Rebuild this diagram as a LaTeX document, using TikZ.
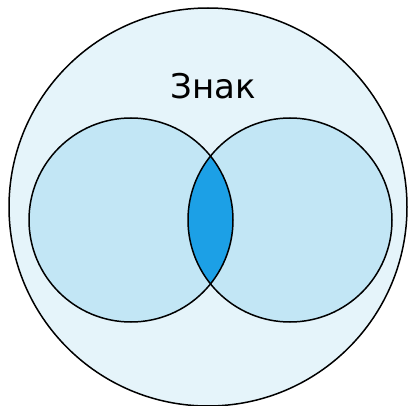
\documentclass[tikz,border=0pt]{standalone}
\usepackage{fontspec}
\setmainfont{Liberation Sans}
\newfontfamily\signfont{DejaVu Sans}
\usetikzlibrary{positioning}
\definecolor{outerblue}{RGB}{229,244,250}
\definecolor{innerblue}{RGB}{194,230,245}
\definecolor{lensblue}{RGB}{28,160,230}

\begin{document}
\begin{tikzpicture}[
  x=1pt,y=-1pt,
  ring/.style={draw=black, line width=1.5pt},
  label/.style={font=\signfont\fontsize{34}{40}\selectfont, inner sep=0pt}
]
\useasboundingbox (0,0) rectangle (412,406);
\fill[outerblue] (208,207) circle (199);
\fill[innerblue] (131,220) circle (102);
\fill[innerblue] (290,220) circle (102);
\begin{scope}
  \clip (131,220) circle (102);
  \fill[lensblue] (290,220) circle (102);
\end{scope}
\draw[ring] (208,207) circle (199);
\draw[ring] (131,220) circle (102);
\draw[ring] (290,220) circle (102);
\node[label] (sign) at (213,86) {Знак};
\end{tikzpicture}
\end{document}
